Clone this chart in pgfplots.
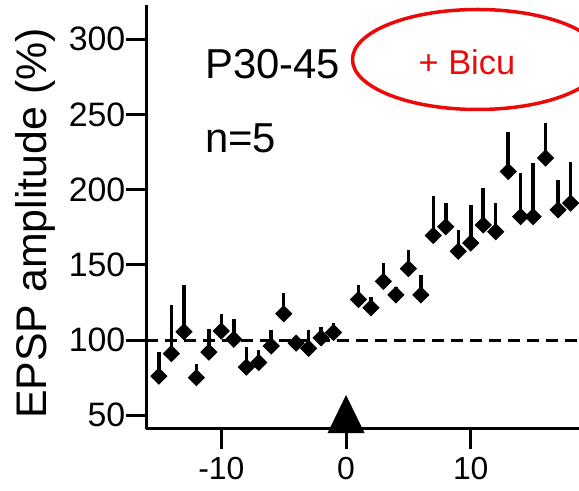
\documentclass[border=0pt]{standalone}
\usepackage{pgfplots}
\pgfplotsset{compat=1.18}
\usepackage{pgfplotstable}
\usepackage{fontspec}
\setmainfont{Liberation Sans}
\definecolor{bicured}{RGB}{235,10,10}

\pgfdeclareplotmark{arrowtri}{%
  \pgfpathmoveto{\pgfqpoint{-18.5bp}{-4.5bp}}%
  \pgfpathlineto{\pgfqpoint{18.5bp}{-4.5bp}}%
  \pgfpathlineto{\pgfqpoint{0bp}{33.5bp}}%
  \pgfpathclose
  \pgfusepathqfill}

\pgfplotstableread{
x    y      e
-15  76     16
-14  91     32.5
-13  105.5  31
-12  75     9
-11  92     15.5
-10  106    11.5
-9   100.5  13.5
-8   82     13.5
-7   85     8.5
-6   96     11
-5   117.5  13.5
-4   98     5
-3   94.5   12.5
-2   101.5  7
-1   105    6
1    127    9.6
2    121.5  7
3    139    12
4    130    5
5    147.5  12.5
6    130    13
7    169.5  26.5
8    175.3  15.7
9    159    14
10   164.5  25.5
11   176.5  24.5
12   172    19
13   212    26
14   182    29
15   182    35.5
16   221    23
17   186.5  20
18   191    27.5
}\epsp

\begin{document}
\begin{tikzpicture}
\useasboundingbox (-146.5bp,-62.5bp) rectangle (432.5bp,428.5bp);
\clip (-146.5bp,-62.5bp) rectangle (432.5bp,428.5bp);
\begin{axis}[
  scale only axis, width=432.5bp, height=423.5bp,
  xmin=-16, xmax=18.68, ymin=41.2, ymax=322.7,
  axis lines=left, axis line style={-, line width=3bp},
  clip=false,
  xtick={-10,0,10}, xticklabels={-10,0,10},
  ytick={50,100,150,200,250,300}, yticklabels={50,100,150,200,250,300},
  tick align=outside, major tick length=20bp,
  tick style={line width=3bp, black},
  tick label style={inner sep=0pt},
  xticklabel style={font=\fontsize{32}{32}\selectfont, yshift=-9bp},
  yticklabel style={font=\fontsize{34}{34}\selectfont, xshift=-1bp},
  ylabel={EPSP amplitude (\%)},
  ylabel style={at={(axis description cs:-0.2301,0.484)}, anchor=base, rotate=0, font=\fontsize{43}{43}\selectfont},
]
\addplot[dash pattern=on 12bp off 7bp, line width=3bp, black] coordinates {(-16,100) (18.68,100)};
\addplot[only marks, black, mark=square*, mark size=5.6bp,
  mark options={rotate=45, fill=black, draw=black, line width=1bp},
  error bars/.cd, y dir=plus, y explicit, error mark=none,
  error bar style={line width=3.5bp, black}]
  table[x=x, y=y, y error=e] {\epsp};
\addplot[only marks, black, mark=arrowtri, mark options={fill=black}] coordinates {(0,41.2)};
\end{axis}
\draw[bicured, line width=3.5bp] (206bp,369bp) arc[start angle=180, end angle=-180, x radius=125bp, y radius=50bp];
\node[anchor=base west, inner sep=0pt, font=\fontsize{42}{42}\selectfont] at (58.5bp,349.5bp) {P30-45};
\node[anchor=base west, inner sep=0pt, font=\fontsize{42}{42}\selectfont] at (58.5bp,275.5bp) {n=5};
\node[anchor=base west, inner sep=0pt, text=bicured, font=\fontsize{34.5}{34.5}\selectfont] at (272bp,353.5bp) {+ Bicu};
\end{tikzpicture}
\end{document}
